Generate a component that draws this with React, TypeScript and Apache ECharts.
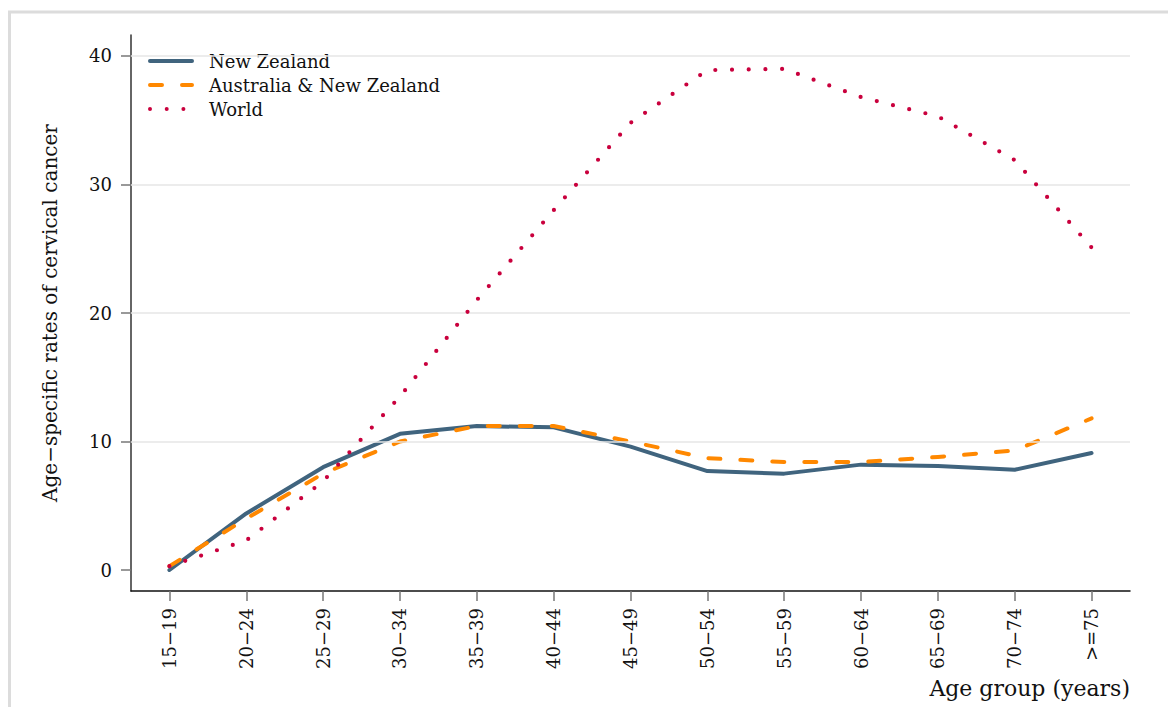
import React, { useEffect, useRef } from "react";
import * as echarts from "echarts";

const categories = ["15−19", "20−24", "25−29", "30−34", "35−39", "40−44", "45−49", "50−54", "55−59", "60−64", "65−69", "70−74", ">=75"];
const newZealand = [0.0, 4.4, 8.0, 10.6, 11.2, 11.1, 9.6, 7.7, 7.5, 8.2, 8.1, 7.8, 9.1];
const australiaNZ = [0.3, 4.0, 7.5, 10.0, 11.2, 11.2, 10.0, 8.7, 8.4, 8.4, 8.8, 9.3, 11.8];
const world = [0.3, 2.3, 6.9, 13.5, 21.0, 28.0, 34.8, 38.9, 39.0, 36.8, 35.3, 31.9, 25.1];
const yTicks = [0, 10, 20, 30, 40];
const gridValues = [10, 20, 30, 40];
const seriesNames = ["New Zealand", "Australia & New Zealand", "World"];
const yTitle = "Age−specific rates of cervical cancer";
const xTitle = "Age group (years)";

const FONT = "DejaVu Serif";

export default function App() {
  const ref = useRef<HTMLDivElement>(null);
  useEffect(() => {
    const chart = echarts.init(ref.current!, undefined, { renderer: "svg" });
    chart.setOption({
      animation: false,
      backgroundColor: "#ffffff",
      textStyle: { fontFamily: FONT },
      grid: { left: 131, right: 38, top: 35, bottom: 116, containLabel: false },
      legend: {
        data: seriesNames,
        orient: "vertical",
        left: 148,
        top: 52,
        padding: 0,
        itemWidth: 42,
        itemHeight: 18,
        itemGap: 6,
        itemStyle: { opacity: 0 },
        lineStyle: { width: 4 },
        textStyle: { fontFamily: FONT, fontSize: 18, lineHeight: 18, color: "#111", padding: [0, 0, 0, 12] },
      },
      xAxis: {
        type: "category",
        data: categories,
        boundaryGap: true,
        axisLine: { show: true, onZero: false, lineStyle: { color: "#111", width: 1.5 } },
        axisTick: { show: true, alignWithLabel: true, length: 10, lineStyle: { color: "#777", width: 1.5 } },
        axisLabel: { rotate: 90, margin: 17, fontFamily: FONT, fontSize: 18, color: "#111", interval: 0 },
        splitLine: { show: false },
      },
      yAxis: {
        type: "value",
        min: -1.634,
        max: 41.634,
        axisLine: { show: true, lineStyle: { color: "#333", width: 1.5 } },
        axisTick: { show: true, length: 10, customValues: yTicks, lineStyle: { color: "#777", width: 1.5 } },
        axisLabel: { customValues: yTicks, margin: 19, fontFamily: FONT, fontSize: 18, color: "#111" },
        splitLine: { show: false },
      },
      graphic: [
        {
          type: "rect",
          shape: { x: 9.5, y: 12, width: 1400, height: 900 },
          style: { fill: "none", stroke: "#dcdcdc", lineWidth: 3 },
          silent: true,
          z: -10,
        },
        {
          type: "text",
          x: 50,
          y: 313,
          rotation: Math.PI / 2,
          style: { text: yTitle, font: `20px '${FONT}'`, fill: "#111", align: "center", verticalAlign: "middle" },
        },
        {
          type: "text",
          x: 1130,
          y: 688,
          style: { text: xTitle, font: `22px '${FONT}'`, fill: "#111", align: "right", verticalAlign: "middle" },
        },
      ],
      series: [
        {
          name: "grid",
          type: "line",
          data: [],
          z: 0,
          silent: true,
          markLine: {
            silent: true,
            symbol: "none",
            label: { show: false },
            lineStyle: { color: "#e6e6e6", width: 1.5, type: "solid" },
            data: gridValues.map((v) => ({ yAxis: v })),
          },
        },
        {
          name: seriesNames[0],
          type: "line",
          data: newZealand,
          symbol: "none",
          z: 3,
          lineStyle: { color: "#40647e", width: 4, cap: "round", join: "round" },
          itemStyle: { color: "#40647e" },
        },
        {
          name: seriesNames[1],
          type: "line",
          data: australiaNZ,
          symbol: "none",
          z: 4,
          lineStyle: { color: "#ff8800", width: 4, type: [12, 20], cap: "round", join: "round" },
          itemStyle: { color: "#ff8800" },
        },
        {
          name: seriesNames[2],
          type: "line",
          data: world,
          symbol: "none",
          z: 5,
          lineStyle: { color: "#c9003d", width: 4.2, type: [0, 16.7], cap: "round", join: "round" },
          itemStyle: { color: "#c9003d" },
        },
      ],
    });
    return () => chart.dispose();
  }, []);
  return <div ref={ref} style={{ position: "absolute", left: 0, top: 0, width: 1168, height: 707 }} />;
}
